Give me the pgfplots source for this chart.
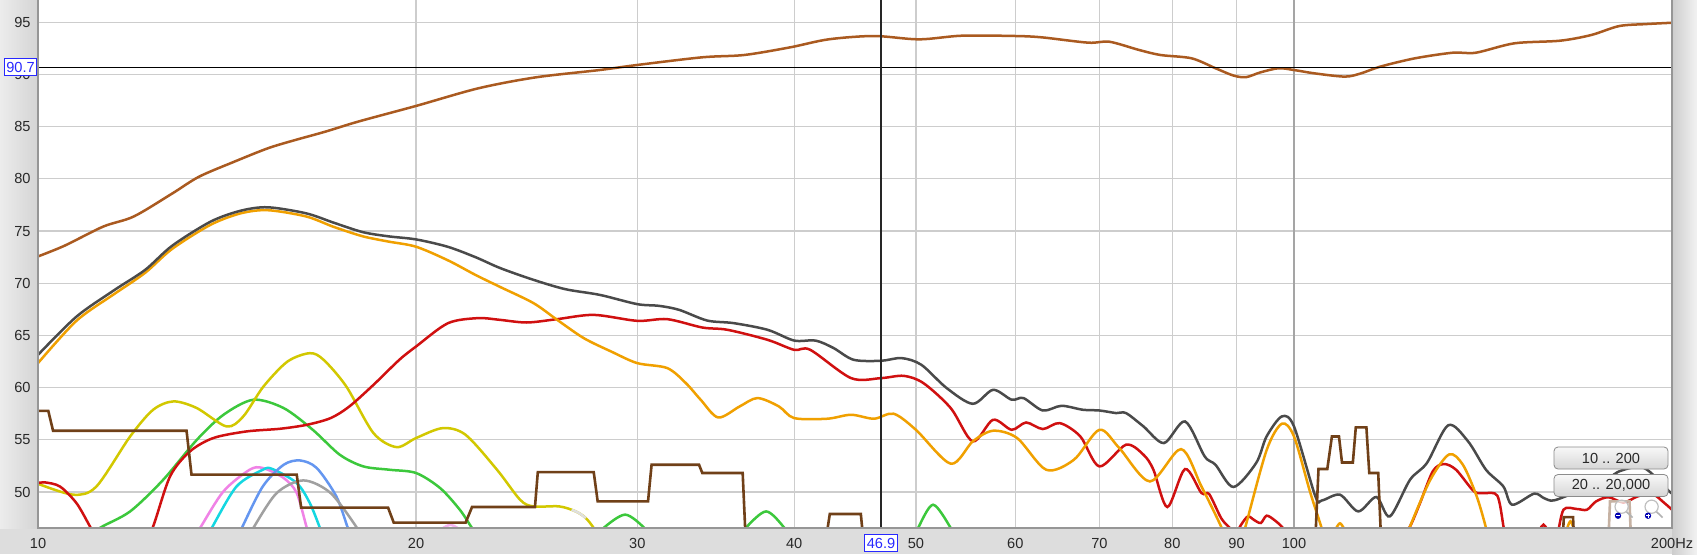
\documentclass[border=0pt]{standalone}
\usepackage{pgfplots}
\pgfplotsset{compat=1.18}
\usepackage{fontspec}
\setmainfont{Liberation Sans}
\definecolor{cTop}{RGB}{170,90,32}
\definecolor{cDark}{RGB}{74,74,74}
\definecolor{cOrange}{RGB}{240,160,0}
\definecolor{cRed}{RGB}{208,16,16}
\definecolor{cYellow}{RGB}{210,200,0}
\definecolor{cGreen}{RGB}{60,200,60}
\definecolor{cPink}{RGB}{240,130,230}
\definecolor{cCyan}{RGB}{20,215,225}
\definecolor{cBlue}{RGB}{100,150,240}
\definecolor{cLGray}{RGB}{160,160,160}
\definecolor{cStep}{RGB}{112,64,24}
\definecolor{gridc}{RGB}{205,205,205}
\definecolor{gridd}{RGB}{165,165,165}
\definecolor{tickc}{RGB}{40,40,40}
\definecolor{frame}{RGB}{150,150,150}
\definecolor{bgc}{RGB}{221,221,221}
\definecolor{cursorblue}{RGB}{40,40,255}
\begin{document}
\begin{tikzpicture}[x=1pt,y=1pt]
\path[use as bounding box] (0,0) rectangle (848.5,277);
\fill[bgc] (0,0) rectangle (848.5,277);
\shade[left color={rgb,255:red,236;green,236;blue,236}, right color={rgb,255:red,212;green,212;blue,212}] (0,13) rectangle (19,277);
\shade[left color={rgb,255:red,205;green,205;blue,205}, right color={rgb,255:red,242;green,242;blue,242}] (836,0) rectangle (848.5,277);
\begin{axis}[
  at={(19pt,13pt)}, anchor=south west, scale only axis,
  width=817pt, height=264pt,
  xmode=log, xmin=10, xmax=200, ymin=46.55, ymax=97.14,
  axis background/.style={fill=white},
  axis line style={draw=none},
  tick style={draw=none}, major tick length=0pt, minor tick length=0pt,
  grid=major, grid style={draw=gridc, line width=0.6pt},
  xtick={10,20,30,40,50,60,70,80,90,100,200},
  xticklabels={10,20,30,40,50,60,70,80,90,100,200Hz},
  ytick={50,55,60,65,70,75,80,85,90,95},
  yticklabels={50,55,60,65,70,75,80,85,90,95},
  xticklabel style={anchor=north, inner sep=0pt, yshift=-4.8pt, font=\fontsize{7.3}{8}\selectfont, text=tickc},
  yticklabel style={anchor=east, inner sep=0pt, xshift=-3.5pt, font=\fontsize{7.3}{8}\selectfont, text=tickc},
  every axis plot/.append style={line width=1.25pt},
]
% darker 100 Hz gridline
\addplot[gridd, line width=0.7pt] coordinates {(100,46.55) (100,97.14)};

% small bumps
\addplot[cPink, smooth] coordinates {(13.3,45.5)(13.46,46.55)(14.05,50.06)(14.74,52.13)(15.1,52.3)(15.69,51.34)(16.07,49.9)(16.37,46.55)(16.5,45.5)};
\addplot[cPink!60, smooth] coordinates {(20.7,46.0)(21.3,46.85)(21.9,46.0)};
\addplot[cCyan, smooth] coordinates {(13.6,45.5)(13.75,46.55)(14.39,50.53)(15.1,52.13)(15.37,52.2)(16.07,50.86)(16.46,48.94)(16.77,46.55)(16.9,45.5)};
\addplot[cBlue, smooth] coordinates {(14.4,45.5)(14.53,46.55)(15.1,50.53)(15.69,52.61)(16.17,53.02)(16.67,52.3)(17.28,49.58)(17.65,46.55)(17.8,45.5)};
\addplot[cLGray, smooth] coordinates {(14.7,45.5)(14.84,46.55)(15.49,49.9)(16.27,51.11)(17.1,49.9)(17.95,46.55)(18.1,45.5)};

% green
\addplot[cGreen, smooth] coordinates {(11.0,45.5)(11.2,46.55)(11.84,48.14)(12.58,51.17)(13.38,55.0)(14.05,57.4)(14.84,58.84)(15.69,58.04)(16.55,55.96)(17.39,53.57)(18.16,52.45)(19.06,52.13)(20,51.82)(20.9,50.38)(21.67,48.3)(22.16,46.55)(22.5,45.5)};
\addplot[cGreen, smooth] coordinates {(27.8,45.5)(28.2,46.55)(29.34,47.83)(30.4,46.55)(30.8,45.5)};
\addplot[cGreen, smooth] coordinates {(36.2,45.5)(36.6,46.55)(38.0,48.14)(39.3,46.55)(39.7,45.5)};
\addplot[cGreen, smooth] coordinates {(49.8,45.5)(50.2,46.55)(51.6,48.78)(53.3,46.55)(53.7,45.5)};

% yellow
\addplot[cYellow, smooth] coordinates {(10,50.79)(10.67,49.74)(11.13,50.53)(11.84,55.32)(12.35,57.88)(12.82,58.68)(13.38,58.04)(14.13,56.28)(14.57,57.24)(15.12,60.11)(15.8,62.5)(16.46,63.3)(16.88,62.67)(17.6,60.11)(18.5,55.64)(19.3,54.3)(20,55.17)(21.0,56.12)(21.9,55.48)(23.2,52.13)(24.2,49.26)(24.8,48.62)(26.0,48.62)(26.8,48.14)(27.3,47.5)(27.7,46.55)(28,45.5)};
\addplot[gray!25, smooth] coordinates {(26.6,48.3)(26.95,48.0)(27.3,47.5)};

% red
\addplot[cRed, smooth] coordinates {(10,50.86)(10.13,50.92)(10.41,50.53)(10.73,48.94)(11.0,46.7)(11.2,45.0)};
\addplot[cRed, smooth] coordinates {(12.1,44.5)(12.35,46.7)(12.74,51.5)(13.21,53.88)(13.79,55.17)(14.65,55.8)(15.59,56.06)(16.37,56.44)(17.1,57.08)(17.7,58.2)(18.5,60.27)(19.4,62.67)(20,63.94)(21.2,66.17)(22.4,66.66)(23.3,66.5)(24.5,66.24)(25.9,66.56)(27.7,66.97)(30,66.4)(31.7,66.56)(33.8,65.76)(35.4,65.54)(38.1,64.58)(40,63.62)(41.2,63.62)(44.4,60.91)(46.9,60.91)(48.9,61.13)(50.7,60.43)(53.3,58.04)(55.5,54.85)(57.6,56.92)(59.6,55.96)(61.2,56.66)(63.1,56.03)(65.1,56.6)(67.6,55.32)(70,52.45)(73.5,54.53)(75.9,53.57)(77.3,52.13)(79.3,48.56)(81.9,52.2)(84.4,49.9)(85.6,49.8)(87.5,47.5)(88.9,46.55)(89.8,46.0)(90.8,46.9)(91.9,47.66)(93,47.3)(94.1,47.03)(95.1,47.73)(96.5,47.3)(98,46.55)(99,45.5)};
\addplot[cRed, smooth] coordinates {(121,45.0)(123.7,46.7)(126,48.94)(129,52.0)(131.6,52.68)(134.6,52.13)(139.1,50.06)(141.7,49.9)(145.2,49.64)(146.9,46.55)(147.5,45.5)};
\addplot[cRed, smooth] coordinates {(156,45.8)(158,46.87)(160,45.8)};
\addplot[cRed, smooth] coordinates {(162,45.5)(163.9,48.3)(168,48.37)(171.1,48.3)(174,49.1)(178,49.5)(183,49.0)(188,49.6)(193,49.8)(197,49.0)(200,48.3)};

% orange
\addplot[cOrange, smooth] coordinates {(10,62.35)(10.73,66.4)(11.51,69.0)(12.17,71.0)(12.79,73.3)(13.72,75.6)(14.5,76.7)(15.24,77.0)(16.35,76.4)(17.2,75.4)(18.14,74.5)(19,74.0)(20,73.5)(21.2,72.2)(22.3,70.8)(23.3,69.68)(24.8,68.1)(25.9,66.5)(27.2,64.74)(28.6,63.46)(30,62.35)(31.7,61.87)(32.8,60.43)(33.7,58.84)(34.8,57.14)(36.2,58.2)(37.4,59.0)(38.9,58.2)(40,57.08)(42.5,57.02)(44.4,57.4)(46.3,57.02)(48.0,57.5)(50,55.96)(53.3,52.71)(55.5,54.85)(57.6,55.87)(60.2,55.17)(63.5,52.13)(66.8,53.09)(70,55.96)(72.6,54.21)(76.8,51.01)(81.3,54.11)(84.4,50.53)(87.6,46.55)(88.2,45.3)};
\addplot[cOrange, smooth] coordinates {(90.8,45.3)(91.5,46.7)(95.1,54.0)(97.8,56.54)(100,55.32)(103,50.0)(105.2,46.55)(105.8,45.3)};
\addplot[cOrange, smooth] coordinates {(107.3,45.8)(108.8,47.0)(110.3,45.8)};
\addplot[cOrange, smooth] coordinates {(122.5,45.3)(123.7,46.7)(128.4,51.17)(132.9,53.6)(136.3,52.61)(139.8,49.58)(142.2,46.55)(142.8,45.3)};
\addplot[cOrange, smooth] coordinates {(164.5,46.0)(166,47.2)(167.5,46.0)};

% dark gray
\addplot[cDark, smooth] coordinates {(10,63.14)(10.73,66.8)(11.51,69.37)(12.17,71.28)(12.79,73.6)(13.72,75.9)(14.5,76.95)(15.24,77.28)(16.35,76.7)(17.2,75.8)(18.14,74.9)(19,74.5)(20,74.2)(21.19,73.5)(22.3,72.5)(23.34,71.45)(24.8,70.33)(26.3,69.43)(28.0,68.89)(30,68.0)(31.2,67.84)(32.4,67.45)(34.1,66.43)(35.8,66.18)(38.1,65.54)(40,64.51)(41.6,64.51)(43,63.79)(44.6,62.67)(46.9,62.57)(48.7,62.83)(50.5,62.19)(52.9,59.96)(55.5,58.45)(57.6,59.79)(59.6,58.84)(60.9,59.0)(63.1,57.81)(65.3,58.26)(67.9,57.88)(70,57.81)(72.2,57.56)(73.5,57.56)(75.9,56.28)(78.8,54.69)(81.9,56.76)(84.9,53.41)(86.6,52.61)(89.5,50.48)(93.3,52.78)(95.1,55.32)(97.8,57.24)(100,56.28)(104,49.58)(105.3,49.2)(108.8,49.74)(112.5,48.14)(116.3,49.52)(119.2,47.66)(123.7,51.17)(127.6,52.78)(132.7,56.4)(137.6,54.85)(142.2,52.13)(146.8,50.53)(149.2,48.78)(155.3,49.84)(158.1,49.42)(161,49.19)(168,50.0)(175,50.6)(181.5,51.97)(190,52.3)(199,50.06)(200,49.9)};

% step curve
\addplot[cStep, line width=1.3pt] coordinates {(10,57.78)(10.19,57.78)(10.28,55.87)(13.13,55.87)(13.25,51.66)(16.07,51.66)(16.2,48.5)(19.0,48.5)(19.2,47.06)(21.9,47.06)(22.16,48.56)(24.87,48.56)(25.0,51.9)(27.7,51.9)(27.9,49.1)(30.6,49.1)(30.8,52.61)(33.6,52.61)(33.8,51.82)(36.4,51.82)(36.6,45.5)};
\addplot[cStep, line width=1.3pt] coordinates {(42.4,45.5)(42.7,47.89)(45.2,47.89)(45.4,45.5)};
\addplot[cStep, line width=1.3pt] coordinates {(104,45.5)(104.6,52.2)(106.3,52.2)(107.2,55.32)(108.6,55.32)(109.2,52.83)(111.4,52.83)(112.0,56.19)(114.2,56.19)(114.8,51.82)(116.7,51.82)(117.3,45.5)};
\addplot[cStep, line width=1.3pt] coordinates {(163.7,45.5)(164.0,47.6)(166.8,47.6)(167.1,45.5)};
\addplot[cStep!40, line width=1.3pt] coordinates {(178,45.5)(178.5,49.1)(185,49.1)(185.5,45.5)};

% top curve
\addplot[cTop, smooth] coordinates {(10,72.57)(10.5,73.6)(11.27,75.43)(11.92,76.4)(12.79,78.6)(13.43,80.2)(14.3,81.6)(15.24,82.93)(16.0,83.7)(16.93,84.52)(18.0,85.5)(20,86.99)(22.42,88.68)(24.91,89.73)(28.0,90.43)(29.98,90.91)(33.8,91.65)(36.5,91.87)(39.7,92.6)(42.6,93.37)(46.3,93.69)(50.3,93.37)(54.4,93.72)(60,93.69)(63,93.56)(68.6,93.05)(71.3,93.14)(75.3,92.35)(78.3,91.87)(82.9,91.55)(86.6,90.6)(89.5,89.9)(91.6,89.75)(94,90.2)(97.2,90.6)(100,90.43)(104,90.1)(109.8,89.8)(113,90.1)(117.1,90.75)(124.8,91.55)(133.8,92.09)(139.6,92.09)(149.8,92.99)(162.9,93.24)(172.4,93.78)(181.5,94.64)(190.5,94.83)(200,94.96)};

% cursors
\addplot[black, line width=0.7pt] coordinates {(10,90.7)(200,90.7)};
\addplot[black!85, line width=0.55pt] coordinates {(46.9,46.55)(46.9,97.14)};
\end{axis}
% frame
\draw[frame, line width=1.2pt] (19,277) -- (19,13) -- (836,13) -- (836,277);
% cursor readouts
\node[draw=cursorblue, fill=white, text=cursorblue, line width=0.5pt, inner xsep=1pt, inner ysep=0pt, minimum height=8.5pt, font=\fontsize{7.3}{8}\selectfont] at (10.25,243.4) {90.7};
\node[draw=cursorblue, fill=white, text=cursorblue, line width=0.5pt, inner xsep=1pt, inner ysep=0pt, minimum height=8.5pt, font=\fontsize{7.3}{8}\selectfont] at (440.5,5.5) {46.9};
% buttons
\node[draw={rgb,255:red,140;green,140;blue,140}, rounded corners=2pt, top color={rgb,255:red,248;green,248;blue,248}, bottom color={rgb,255:red,214;green,214;blue,214}, minimum width=57pt, minimum height=11pt, inner sep=0pt, font=\fontsize{7.3}{8}\selectfont, text=tickc] at (805.5,48) {10 .. 200};
\node[draw={rgb,255:red,140;green,140;blue,140}, rounded corners=2pt, top color={rgb,255:red,248;green,248;blue,248}, bottom color={rgb,255:red,214;green,214;blue,214}, minimum width=57pt, minimum height=11pt, inner sep=0pt, font=\fontsize{7.3}{8}\selectfont, text=tickc] at (805.5,34.25) {20 .. 20,000};
% magnifier icons
\foreach \cx/\sg in {810.8/-, 825.8/+} {
  \draw[gray!60, line width=0.8pt] (\cx+2.3,21.3) -- (\cx+5.5,18.2);
  \draw[gray!50, fill=white, fill opacity=0.6, line width=0.6pt] (\cx,23.65) circle (3.3);
  \fill[blue!70!black] (\cx-1.8,19.15) circle (1.6);
}
\draw[white, line width=0.5pt] (808.2,19.15) -- (810.2,19.15);
\draw[white, line width=0.5pt] (823.2,19.15) -- (825.2,19.15) (824.2,18.15) -- (824.2,20.15);
\end{tikzpicture}
\end{document}
